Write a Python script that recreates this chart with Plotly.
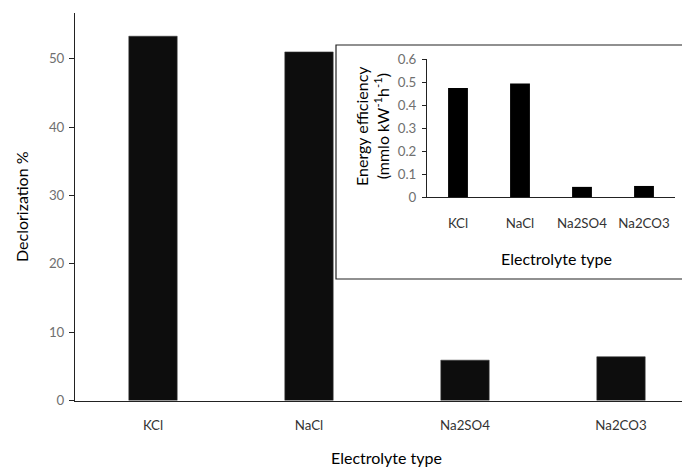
import plotly.graph_objects as go

categories = ["KCl", "NaCl", "Na2SO4", "Na2CO3"]
decolorization = [53.3, 51.0, 5.9, 6.4]
energy_eff = [0.474, 0.494, 0.044, 0.048]
main_yticks = [0, 10, 20, 30, 40, 50]
inset_yticks = [0, 0.1, 0.2, 0.3, 0.4, 0.5, 0.6]
inset_yticklabels = ["0", "0.1", "0.2", "0.3", "0.4", "0.5", "0.6"]

# page body has an 8px margin; size the figure so it fills the window
OX, OY = 8, 8
W, H = 682, 460


def px(x):
    return (x - OX) / W


def py(y):
    return (H - (y - OY)) / H


FONT = "Lato"
TICKCOL = "#6f6f6f"
TICKSIZE = 13.3
TITLESIZE = 16

fig = go.Figure()
fig.add_trace(go.Bar(x=categories, y=decolorization, width=0.31,
                     marker=dict(color="#0d0d0d", line=dict(color="#3a3a3a", width=0.6)),
                     xaxis="x", yaxis="y", showlegend=False))
fig.add_trace(go.Bar(x=categories, y=energy_eff, width=0.32,
                     marker=dict(color="#000000", line=dict(width=0)),
                     xaxis="x2", yaxis="y2", showlegend=False))

fig.update_layout(
    width=W, height=H, margin=dict(l=0, r=0, t=0, b=0),
    paper_bgcolor="white", plot_bgcolor="rgba(0,0,0,0)",
    font=dict(family=FONT, size=12, color="black"),
    xaxis=dict(domain=[px(75), 1], range=[-0.5, -0.5 + (690 - 75) / 156], showgrid=False,
               showline=True, linecolor="#222", linewidth=1, ticks="",
               tickfont=dict(size=TICKSIZE, color="#333"), ticklabelstandoff=13,
               automargin=False, anchor="y"),
    yaxis=dict(domain=[py(400.5), py(13)], range=[0, 56.7], showgrid=False,
               showline=True, linecolor="#222", linewidth=1, ticks="outside",
               ticklen=5, tickcolor="#222", tickvals=main_yticks,
               tickfont=dict(size=TICKSIZE, color=TICKCOL), ticklabelstandoff=2,
               automargin=False, zeroline=False, anchor="x"),
    xaxis2=dict(domain=[px(427), px(675)], range=[-0.5, 3.5], showgrid=False,
                showline=True, linecolor="#222", linewidth=1, ticks="",
                tickfont=dict(size=TICKSIZE, color="#333"), ticklabelstandoff=14,
                automargin=False, anchor="y2"),
    yaxis2=dict(domain=[py(197), py(59)], range=[0, 0.6], showgrid=False,
                showline=True, linecolor="#222", linewidth=1, ticks="outside",
                ticklen=4, tickcolor="#222", tickvals=inset_yticks,
                ticktext=inset_yticklabels, ticklabelstandoff=3,
                tickfont=dict(size=TICKSIZE, color=TICKCOL),
                automargin=False, zeroline=False, anchor="x2"),
    shapes=[dict(type="rect", xref="paper", yref="paper",
                 x0=px(336), x1=1.05, y0=py(279), y1=py(45),
                 line=dict(color="#222", width=1.2), fillcolor="white", layer="below")],
    annotations=[
        dict(text="Electrolyte type", x=px(387), y=py(457), xref="paper", yref="paper",
             showarrow=False, font=dict(size=TITLESIZE), xanchor="center", yanchor="middle"),
        dict(text="Declorization %", x=px(22), y=py(207), xref="paper", yref="paper",
             showarrow=False, textangle=-90, font=dict(size=TITLESIZE),
             xanchor="center", yanchor="middle"),
        dict(text="Electrolyte type", x=px(556), y=py(258), xref="paper", yref="paper",
             showarrow=False, font=dict(size=TITLESIZE), xanchor="center", yanchor="middle"),
        dict(text="Energy efficiency<br>(mmlo kW<sup>-1</sup>h<sup>-1</sup>)",
             x=px(372), y=py(126), xref="paper", yref="paper",
             showarrow=False, textangle=-90, font=dict(size=TITLESIZE),
             xanchor="center", yanchor="middle"),
    ],
)

fig.write_html("out.html")
